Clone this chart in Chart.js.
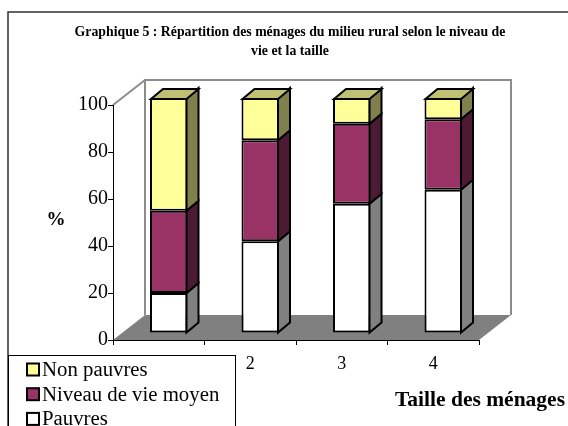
<!DOCTYPE html>
<html>
<head>
<meta charset="utf-8">
<script src="https://cdn.jsdelivr.net/npm/chart.js@4.4.0/dist/chart.umd.min.js"></script>
<style>
  html, body { margin: 0; padding: 0; background: #ffffff; }
  #c { display: block; }
</style>
</head>
<body>
<canvas id="c" width="568" height="426"></canvas>
<script>
// ---- data ----
const categories = ['1', '2', '3', '4'];
const pauvres = [17, 39, 55, 61];
const niveauMoyen = [35, 43, 34, 30];
const nonPauvres = [48, 18, 11, 9];
const seriesNames = ['Pauvres', 'Niveau de vie moyen', 'Non pauvres'];
const yTicks = [0, 20, 40, 60, 80, 100];
const titleLines = ['Graphique 5 : Répartition des ménages du milieu rural selon le niveau de', 'vie et la taille'];
const yTitle = '%';
const xTitle = 'Taille des ménages';

// ---- styles ----
const frontColors = ['#FFFFFF', '#993366', '#FFFF99'];
const sideColors = ['#808080', '#4D1A33', '#80804D'];
const topColors = ['#C0C0C0', '#732650', '#C0C073'];
const SERIF = '"Liberation Serif", "DejaVu Serif", serif';
const WALL = { dx: 32, dy: -25 };
const BAR = { dx: 12, dy: -10, shiftX: 10, shiftY: -7 };

const threeD = {
  id: 'threeD',
  beforeDraw(chart) {
    const ctx = chart.ctx;
    const a = chart.chartArea;
    const yS = chart.scales.y;
    const y0 = yS.getPixelForValue(0);
    const yTop = yS.getPixelForValue(100);
    ctx.save();
    ctx.fillStyle = '#ffffff';
    ctx.fillRect(0, 0, chart.width, chart.height);
    // outer frame
    ctx.strokeStyle = '#303030';
    ctx.lineWidth = 1.5;
    ctx.beginPath();
    ctx.moveTo(8, 440);
    ctx.lineTo(8, 12);
    ctx.lineTo(600, 12);
    ctx.stroke();
    // floor
    ctx.fillStyle = '#808080';
    ctx.beginPath();
    ctx.moveTo(a.left, y0);
    ctx.lineTo(a.right, y0);
    ctx.lineTo(a.right + WALL.dx, y0 + WALL.dy);
    ctx.lineTo(a.left + WALL.dx, y0 + WALL.dy);
    ctx.closePath();
    ctx.fill();
    // back wall
    ctx.strokeStyle = '#8c8c8c';
    ctx.lineWidth = 2;
    ctx.beginPath();
    ctx.moveTo(a.left + WALL.dx, y0 + WALL.dy);
    ctx.lineTo(a.left + WALL.dx, yTop + WALL.dy);
    ctx.lineTo(a.right + WALL.dx, yTop + WALL.dy);
    ctx.lineTo(a.right + WALL.dx, y0 + WALL.dy);
    ctx.stroke();
    // left wall top edge
    ctx.beginPath();
    ctx.moveTo(a.left, yTop);
    ctx.lineTo(a.left + WALL.dx, yTop + WALL.dy);
    ctx.stroke();
    ctx.restore();
  },
  beforeDatasetsDraw(chart) {
    chart.ctx.save();
    chart.ctx.translate(BAR.shiftX, BAR.shiftY);
  },
  afterDatasetsDraw(chart) {
    const ctx = chart.ctx;
    const n = chart.data.datasets.length;
    ctx.lineWidth = 2;
    ctx.strokeStyle = '#000000';
    ctx.lineJoin = 'miter';
    for (let d = 0; d < n; d++) {
      const meta = chart.getDatasetMeta(d);
      meta.data.forEach((bar) => {
        const p = bar.getProps(['x', 'y', 'base', 'width'], true);
        const left = p.x - p.width / 2, right = p.x + p.width / 2;
        const top = Math.min(p.y, p.base), bottom = Math.max(p.y, p.base);
        ctx.fillStyle = sideColors[d];
        ctx.beginPath();
        ctx.moveTo(right - 1, top);
        ctx.lineTo(right - 1 + BAR.dx, top + BAR.dy);
        ctx.lineTo(right - 1 + BAR.dx, bottom + BAR.dy);
        ctx.lineTo(right - 1, bottom);
        ctx.closePath();
        ctx.fill();
        ctx.stroke();
        if (d === n - 1) {
          ctx.fillStyle = topColors[d];
          ctx.beginPath();
          ctx.moveTo(left + 1, top + 1);
          ctx.lineTo(left + 1 + BAR.dx, top + 1 + BAR.dy);
          ctx.lineTo(right - 1 + BAR.dx, top + 1 + BAR.dy);
          ctx.lineTo(right - 1, top + 1);
          ctx.closePath();
          ctx.fill();
          ctx.stroke();
        }
      });
    }
    ctx.restore();
  },
  afterDraw(chart) {
    const ctx = chart.ctx;
    ctx.save();
    // title
    ctx.fillStyle = '#000';
    ctx.textAlign = 'center';
    ctx.textBaseline = 'middle';
    ctx.font = 'bold 13.8px ' + SERIF;
    ctx.fillText(titleLines[0], 290, 32);
    ctx.fillText(titleLines[1], 290, 51);
    // y title
    ctx.font = 'bold 19px ' + SERIF;
    ctx.fillText(yTitle, 56, 220);
    // x title
    ctx.font = 'bold 21.5px ' + SERIF;
    ctx.textAlign = 'left';
    ctx.textBaseline = 'alphabetic';
    ctx.fillText(xTitle, 395, 406);
    // legend
    ctx.fillStyle = '#ffffff';
    ctx.fillRect(9, 355.5, 227, 80);
    ctx.strokeStyle = '#000';
    ctx.lineWidth = 1;
    ctx.strokeRect(8.5, 355.5, 227, 80);
    const ds = chart.data.datasets;
    ctx.font = '20.8px ' + SERIF;
    ctx.textBaseline = 'middle';
    for (let k = 0; k < ds.length; k++) {
      const d = ds[ds.length - 1 - k];
      const cy = 369.5 + k * 24.7;
      ctx.fillStyle = d.backgroundColor;
      ctx.fillRect(27, cy - 6, 12, 12);
      ctx.lineWidth = 2;
      ctx.strokeRect(27, cy - 6, 12, 12);
      ctx.fillStyle = '#000';
      ctx.fillText(d.label, 42, cy + 1);
    }
    ctx.restore();
  }
};

const chart = new Chart(document.getElementById('c'), {
  type: 'bar',
  data: {
    labels: categories,
    datasets: [
      { label: seriesNames[0], data: pauvres, backgroundColor: frontColors[0] },
      { label: seriesNames[1], data: niveauMoyen, backgroundColor: frontColors[1] },
      { label: seriesNames[2], data: nonPauvres, backgroundColor: frontColors[2] }
    ]
  },
  options: {
    responsive: false,
    animation: false,
    devicePixelRatio: 1,
    layout: { padding: { top: 105, left: 0, right: 89, bottom: 0 } },
    datasets: {
      bar: {
        borderColor: '#000000',
        borderWidth: 2,
        borderSkipped: false,
        categoryPercentage: 1,
        barPercentage: 0.41,
        clip: false
      }
    },
    plugins: {
      legend: { display: false },
      title: { display: false },
      tooltip: { enabled: false }
    },
    scales: {
      x: {
        stacked: true,
        afterFit(s) { s.height = 86; },
        grid: { offset: true, drawOnChartArea: false, drawTicks: true, tickLength: 5, color: '#000' },
        border: { color: '#000', width: 1 },
        ticks: { color: '#000', font: { family: SERIF, size: 18 }, padding: 8 }
      },
      y: {
        stacked: true,
        min: 0,
        max: 100,
        afterFit(s) { s.width = 113; },
        afterBuildTicks(s) { s.ticks = yTicks.map(v => ({ value: v })); },
        grid: { drawOnChartArea: false, drawTicks: true, tickLength: 5, color: '#000' },
        border: { color: '#000', width: 1 },
        ticks: { color: '#000', font: { family: SERIF, size: 20 }, padding: 0 }
      }
    }
  },
  plugins: [threeD]
});
</script>
</body>
</html>
